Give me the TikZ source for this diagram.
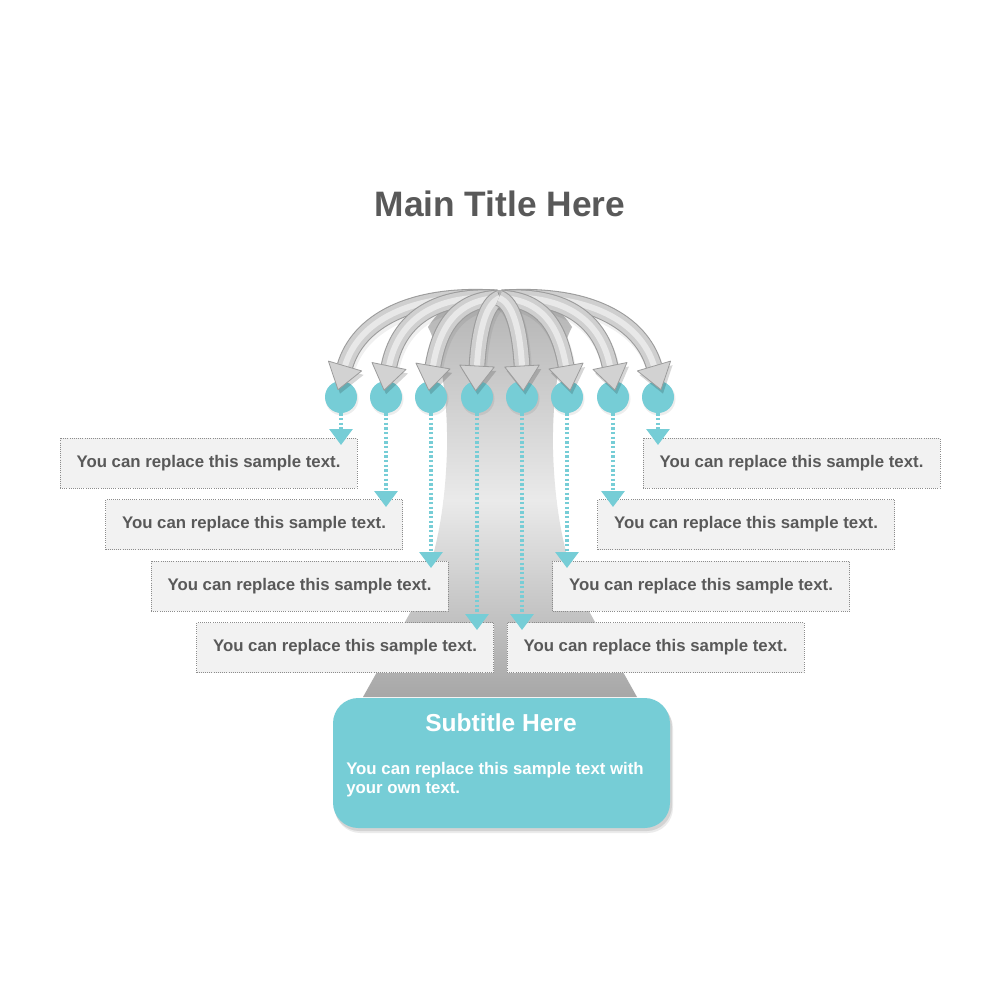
\documentclass[tikz,border=0pt]{standalone}
\usepackage{fontspec}
\setmainfont{Liberation Sans}
\usetikzlibrary{calc,arrows.meta}
\definecolor{teal1}{HTML}{76CDD6}
\definecolor{txtgray}{HTML}{595959}
\definecolor{boxfill}{HTML}{F2F2F2}
\definecolor{boxline}{HTML}{8C8C8C}
\definecolor{trunkTop}{HTML}{B0B0B0}
\definecolor{trunkMid}{HTML}{EAEAEA}
\definecolor{trunkBot}{HTML}{A6A6A6}
\definecolor{arrowEdge}{HTML}{9C9C9C}
\definecolor{arrowBody}{HTML}{CFCFCF}
\definecolor{arrowHi}{HTML}{E8E8E8}
\definecolor{arrowHead}{HTML}{D2D2D2}
\newcommand{\fatarrow}[4]{%
  \coordinate (aS) at (#1);
  \coordinate (aA) at (#2);
  \coordinate (aB) at (#3);
  \coordinate (aE) at (#4);
  \draw[line width=13pt, black, opacity=0.06, transform canvas={xshift=1pt, yshift=-2.5pt}] (aS) .. controls (aA) and (aB) .. (aE);
  \draw[line width=12.5pt, arrowEdge] (aS) .. controls (aA) and (aB) .. (aE);
  \draw[line width=10.9pt, arrowBody] (aS) .. controls (aA) and (aB) .. (aE);
  \draw[line width=4.5pt, arrowHi] (aS) .. controls (aA) and (aB) .. (aE);
  \fill[black, opacity=0.16, transform canvas={xshift=1.5pt, yshift=-3pt}]
    ($(aE)!18.5pt!180:(aB)$) -- ($(aE)!13pt!90:(aB)$) -- ($(aE)!13pt!-90:(aB)$) -- cycle;
  \filldraw[fill=arrowHead, draw=arrowEdge, line width=0.6pt, line join=round]
    ($(aE)!18.5pt!180:(aB)$) -- ($(aE)!13pt!90:(aB)$) -- ($(aE)!13pt!-90:(aB)$) -- cycle;
}
\begin{document}
\begin{tikzpicture}[x=0.75pt, y=-0.75pt,
  sbox/.style={rectangle, minimum width=222.75pt, minimum height=37.5pt, inner sep=0pt,
    fill=boxfill, draw=boxline, densely dotted, line width=0.6pt, text=txtgray,
    font=\bfseries\fontsize{12.6}{15}\selectfont},
  dot/.style={circle, fill=teal1, minimum size=24pt, inner sep=0pt},
  dotline/.style={teal1, line width=2.3pt, dash pattern=on 1.9pt off 1.6pt,
    -{Triangle[width=17.25pt, length=12pt, fill=teal1]}},
  whitetxt/.style={text=white, font=\bfseries\fontsize{12.6}{15}\selectfont, inner sep=0pt, anchor=base west}
]
\useasboundingbox (0,0) rectangle (1000,1000);
\fill[white] (0,0) rectangle (1000,1000);

% title
\node[anchor=base, text=txtgray, font=\bfseries\fontsize{26.5}{30}\selectfont] (title) at (500,216) {Main Title Here};

% trunk (drawn with upward y so that the shading is not disturbed)
\begin{scope}[y=0.75pt]
\path[clip]
  (363,-697) -- (410,-613) .. controls (432,-575) and (445,-520) .. (447,-450)
  .. controls (448,-395) and (440,-350) .. (428,-327)
  .. controls (445,-300) and (470,-290) .. (500,-290)
  .. controls (530,-290) and (555,-300) .. (572,-327)
  .. controls (560,-350) and (552,-395) .. (553,-450)
  .. controls (555,-520) and (568,-575) .. (590,-613) -- (637,-697) -- cycle;
\shade[top color=trunkTop, bottom color=trunkMid] (350,-285) rectangle (650,-500);
\shade[top color=trunkMid, bottom color=trunkBot] (350,-500) rectangle (650,-700);
\end{scope}

% circles
\foreach \i/\x in {1/341,2/386,3/431,4/477,5/522,6/567,7/613,8/658}{
  \fill[black, opacity=0.07] (\x+1,399) circle (16.5);
  \node[dot] (c\i) at (\x,397) {};
}

% fat arrows
\fatarrow{497,298}{410,292}{358,322}{345,366}
\fatarrow{502,298}{589,292}{641,322}{654,366}
\fatarrow{497,298}{432,294}{398,322}{389,366}
\fatarrow{502,298}{567,294}{601,322}{610,366}
\fatarrow{498,298}{458,300}{440,325}{433,366}
\fatarrow{501,298}{541,300}{559,325}{566,366}
\fatarrow{500,298}{486,303}{479,330}{477,366}
\fatarrow{499,298}{513,303}{520,330}{522,366}

% text boxes
\node[sbox] (l1) at (208.5,463) {You can replace this sample text.};
\node[sbox] (l2) at (254,524.5) {You can replace this sample text.};
\node[sbox] (l3) at (299.5,586) {You can replace this sample text.};
\node[sbox] (l4) at (345,647.5) {You can replace this sample text.};
\node[sbox] (r1) at (791.5,463) {You can replace this sample text.};
\node[sbox] (r2) at (746,524.5) {You can replace this sample text.};
\node[sbox] (r3) at (701,586) {You can replace this sample text.};
\node[sbox] (r4) at (655.5,647.5) {You can replace this sample text.};

% dotted connectors
\coordinate (p1) at (341,445);
\coordinate (p2) at (386,507);
\coordinate (p3) at (431,568);
\coordinate (p4) at (477,630);
\coordinate (p5) at (522,630);
\coordinate (p6) at (567,568);
\coordinate (p7) at (613,507);
\coordinate (p8) at (658,445);
\foreach \i in {1,...,8}{
  \draw[dotline] (c\i.south) -- (p\i);
}

% subtitle box
\fill[black, opacity=0.10, rounded corners=19pt] (334,701) rectangle (672,831);
\fill[black, opacity=0.08, rounded corners=19pt] (335,703) rectangle (673,833);
\node[rectangle, rounded corners=19pt, fill=teal1, minimum width=252.75pt, minimum height=97.5pt, inner sep=0pt] (sub) at (501.5,763) {};
\node[anchor=base, text=white, font=\bfseries\fontsize{18.4}{22}\selectfont] (subt) at (501,731) {Subtitle Here};
\node[whitetxt] (subb1) at (346,774) {You can replace this sample text with};
\node[whitetxt] (subb2) at (346,793) {your own text.};
\end{tikzpicture}
\end{document}
